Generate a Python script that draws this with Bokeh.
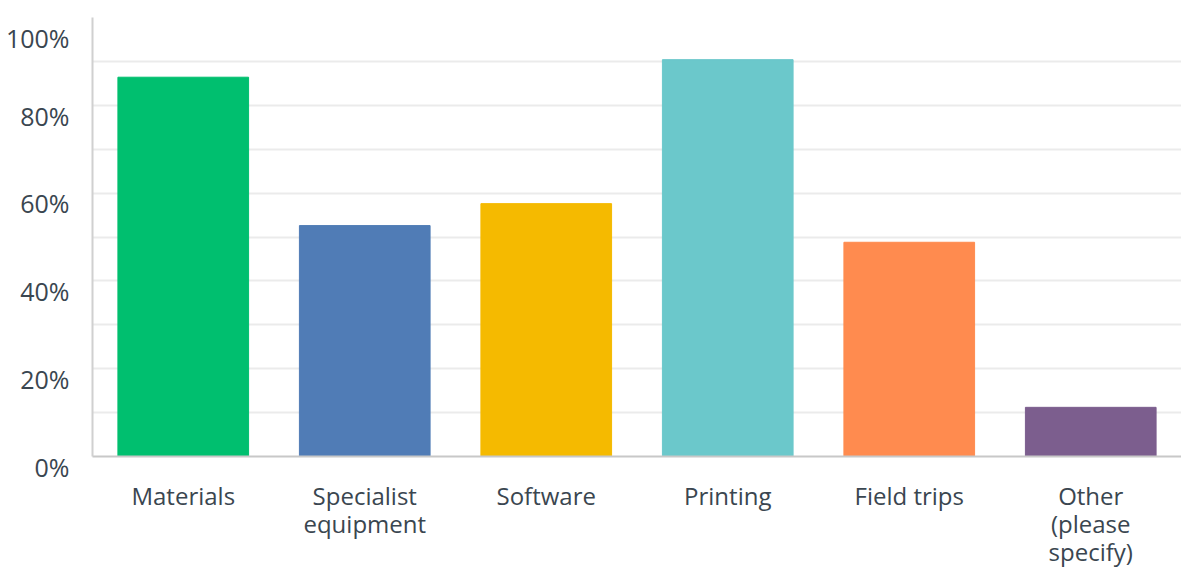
from bokeh.plotting import figure
from bokeh.models import FixedTicker, FactorRange, Range1d, ColumnDataSource
from bokeh.embed import file_html
from bokeh.resources import INLINE

categories = ["Materials", "Specialist equipment", "Software", "Printing", "Field trips", "Other (please specify)"]
wrapped_labels = ["Materials", "Specialist\nequipment", "Software", "Printing", "Field trips", "Other\n(please\nspecify)"]
values = [86.4, 52.6, 57.6, 90.4, 48.8, 11.2]
colors = ["#00BF6F", "#507CB6", "#F5BA00", "#6BC8CB", "#FF8B4F", "#7C5E8E"]
y_ticks = [0, 20, 40, 60, 80, 100]
y_tick_labels = ["0%", "20%", "40%", "60%", "80%", "100%"]
grid_ticks = [10, 20, 30, 40, 50, 60, 70, 80, 90]

source = ColumnDataSource(dict(name=categories, cat=wrapped_labels, val=values, color=colors))

p = figure(x_range=FactorRange(*wrapped_labels, range_padding=0), y_range=Range1d(0, 100),
           width=1181, height=570, output_backend="svg", toolbar_location=None,
           min_border_left=92, min_border_right=0, min_border_top=17, min_border_bottom=112)
p.outline_line_color = None

p.vbar(x="cat", top="val", width=0.72, color="color", source=source)

p.xgrid.grid_line_color = None
p.ygrid.ticker = FixedTicker(ticks=grid_ticks)
p.ygrid.grid_line_color = "#ebebeb"
p.ygrid.grid_line_width = 2

TEXT_COLOR = "#3a4650"

# tick labels sit just below their gridline in the reference: an empty first line pushes each label down
p.yaxis.ticker = FixedTicker(ticks=y_ticks)
p.yaxis.major_label_overrides = {t: "\n" + l for t, l in zip(y_ticks, y_tick_labels)}
p.yaxis.major_tick_line_color = None
p.yaxis.minor_tick_line_color = None
p.yaxis.axis_line_color = "#d0d0d0"
p.yaxis.axis_line_width = 2
p.yaxis.major_label_text_font = "Open Sans"
p.yaxis.major_label_text_font_size = "25px"
p.yaxis.major_label_text_color = TEXT_COLOR
p.yaxis.major_label_text_line_height = 0.6
p.yaxis.major_label_standoff = 17

p.xaxis.major_tick_line_color = None
p.xaxis.minor_tick_line_color = None
p.xaxis.axis_line_color = "#c8c8c8"
p.xaxis.axis_line_width = 2
p.xaxis.major_label_text_font = "Open Sans"
p.xaxis.major_label_text_font_size = "24px"
p.xaxis.major_label_text_color = TEXT_COLOR
p.xaxis.major_label_text_line_height = 0.85
p.xaxis.major_label_standoff = 16

open("out.html", "w").write(file_html(p, INLINE))
